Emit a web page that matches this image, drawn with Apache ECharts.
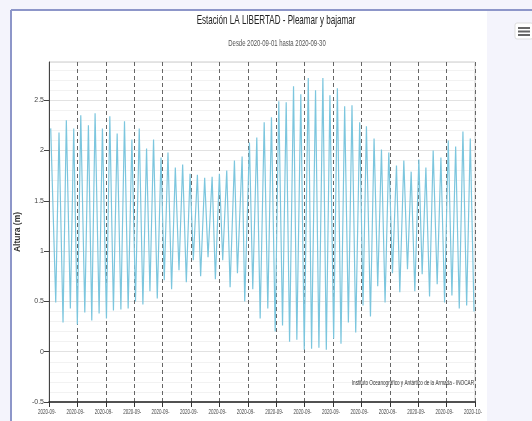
<!DOCTYPE html>
<html>
<head>
<meta charset="utf-8">
<title>Estación LA LIBERTAD - Pleamar y bajamar</title>
<script src="https://cdn.jsdelivr.net/npm/echarts@6/dist/echarts.min.js"></script>
<style>
  html, body { margin: 0; padding: 0; background: #f4f4fc; }
  #chartBox { width: 532px; height: 421px; }
</style>
</head>
<body>
<div id="chartBox"></div>
<script>
var myChart;

// horas desde 2020-09-01 00:00 y altura (m) de pleamares
const highHours = [2.9, 16.9, 29.3, 41.8, 53.7, 66.6, 77.9, 90.3, 102.8, 115.2,
  127.6, 140.1, 152.5, 164.9, 176.7, 189.3, 201.1, 213.5, 225.9, 238.4,
  250.8, 263.1, 275.7, 288.0, 300.4, 313.4, 326.4, 338.8, 351.2, 363.7,
  376.0, 388.4, 400.9, 413.3, 425.6, 438.2, 450.5, 462.9, 474.8, 487.4,
  499.7, 512.1, 525.1, 536.5, 549.4, 561.9, 574.3, 587.3, 599.7, 612.1,
  625.1, 637.0, 649.3, 662.4, 674.8, 687.3, 699.6, 712.0];
const highValues = [2.22, 2.18, 2.30, 2.22, 2.35, 2.25, 2.37, 2.22, 2.34, 2.17,
  2.29, 2.11, 2.22, 2.02, 2.11, 1.93, 1.98, 1.83, 1.86, 1.77,
  1.76, 1.73, 1.74, 1.77, 1.80, 1.90, 1.94, 2.08, 2.13, 2.28,
  2.33, 2.49, 2.48, 2.64, 2.56, 2.72, 2.60, 2.72, 2.55, 2.62,
  2.44, 2.45, 2.28, 2.24, 2.12, 2.01, 1.98, 1.85, 1.90, 1.79,
  1.91, 1.83, 2.00, 1.93, 2.10, 2.04, 2.19, 2.12];

// bajamares
const lowHours = [11.4, 23.7, 36.1, 47.9, 60.5, 72.3, 84.7, 97.1, 108.9, 121.5,
  133.8, 146.2, 158.7, 170.6, 183.0, 194.8, 207.2, 219.7, 232.1, 243.9,
  256.3, 268.8, 281.2, 293.6, 306.1, 318.5, 330.8, 344.4, 356.9, 369.8,
  382.3, 394.7, 406.6, 418.9, 431.4, 443.8, 456.2, 468.7, 481.1, 493.5,
  506.0, 518.4, 530.7, 543.3, 555.6, 568.0, 580.5, 592.9, 605.9, 618.3,
  630.7, 643.2, 656.1, 668.6, 681.0, 693.4, 705.9, 718.3];
const lowValues = [0.49, 0.29, 0.43, 0.27, 0.39, 0.31, 0.38, 0.33, 0.41, 0.42,
  0.43, 0.50, 0.47, 0.60, 0.53, 0.71, 0.62, 0.81, 0.69, 0.91,
  0.75, 0.94, 0.72, 0.91, 0.64, 0.78, 0.50, 0.62, 0.33, 0.43,
  0.20, 0.26, 0.10, 0.12, 0.02, 0.03, 0.04, 0.02, 0.13, 0.08,
  0.29, 0.19, 0.46, 0.35, 0.65, 0.49, 0.78, 0.59, 0.82, 0.60,
  0.77, 0.55, 0.67, 0.49, 0.56, 0.43, 0.46, 0.40];

// etiquetas del eje x (una cada 2 dias, cortadas como en la grafica)
const tickLabels = ['2020-09-', '2020-09-', '2020-09-', '2020-09-', '2020-09-', '2020-09-',
  '2020-09-', '2020-09-', '2020-09-', '2020-09-', '2020-09-', '2020-09-', '2020-09-',
  '2020-09-', '2020-09-', '2020-10-'];
const tickStep = 48; // horas

const font = "'Liberation Sans', Arial, sans-serif";
const Y_MIN = -0.5;

window.onload = function () {
  myChart = echarts.init(document.getElementById("chartBox"));
  setOptions();
  addXLabels();
};

function buildSeries() {
  let pts = [];
  highHours.forEach((h, i) => pts.push([h, highValues[i]]));
  lowHours.forEach((h, i) => pts.push([h, lowValues[i]]));
  pts.sort((a, b) => a[0] - b[0]);
  return pts;
}

// texto comprimido horizontalmente (fuente estrecha)
function narrowText(id, text, x, y, size, color, scale, align) {
  return {
    type: "text", id: id, x: x, y: y, scaleX: scale, z: 10,
    style: {
      text: text, x: 0, y: 0, fontFamily: font, fontSize: size, fill: color,
      align: align || "center", verticalAlign: "middle",
    },
  };
}

function addXLabels() {
  // etiquetas colocadas en la posicion que da el propio eje
  let g = tickLabels.map((t, i) => {
    let p = myChart.convertToPixel({ xAxisIndex: 0, yAxisIndex: 0 }, [i * tickStep, Y_MIN]);
    return narrowText("xl" + i, t, p[0] - 2, p[1] + 10, 7.5, "#444", 0.6);
  });
  myChart.setOption({ graphic: g });
}

function setOptions() {
  var option = {
    backgroundColor: "#f4f4fc",
    animation: false,
    graphic: [
      { type: "rect", id: "panel", z: -10, shape: { x: 11, y: 10, width: 476, height: 420 },
        style: { fill: "#ffffff" } },
      { type: "line", id: "topLine", z: 10, shape: { x1: 11, y1: 10, x2: 532, y2: 10 },
        style: { stroke: "#8d96c9", lineWidth: 2 } },
      { type: "line", id: "leftLine", z: 10, shape: { x1: 11, y1: 10, x2: 11, y2: 421 },
        style: { stroke: "#8d96c9", lineWidth: 2 } },
      { type: "rect", id: "menuBox", shape: { x: 515, y: 23, width: 18, height: 16, r: 2 },
        style: { fill: "#ffffff", stroke: "#dddddd" } },
      { type: "rect", id: "m1", shape: { x: 518, y: 27, width: 12, height: 2 }, style: { fill: "#666" } },
      { type: "rect", id: "m2", shape: { x: 518, y: 30.5, width: 12, height: 2 }, style: { fill: "#666" } },
      { type: "rect", id: "m3", shape: { x: 518, y: 34, width: 12, height: 2 }, style: { fill: "#666" } },
      narrowText("title", "Estación LA LIBERTAD - Pleamar y bajamar", 276, 20, 13, "#222", 0.62),
      narrowText("subtitle", "Desde 2020-09-01 hasta 2020-09-30", 277, 44, 9, "#555", 0.66),
      narrowText("credit", "Instituto Oceanográfico y Antártico de la Armada - INOCAR",
        474, 383, 7.5, "#333", 0.62, "right"),
    ],
    grid: {
      left: 49,
      right: 57,
      top: 62,
      bottom: 19,
      show: true,
      borderColor: "#cccccc",
      borderWidth: 1,
      backgroundColor: "#ffffff",
    },
    xAxis: {
      type: "value",
      min: 0,
      max: 720,
      interval: tickStep,
      axisLine: { show: true, onZero: false, lineStyle: { color: "#222", width: 1.5 } },
      axisTick: { show: true, length: 5, lineStyle: { color: "#333" } },
      axisLabel: { show: false },
      splitLine: { show: true, lineStyle: { color: "#666", type: [4, 3], width: 1 } },
    },
    yAxis: {
      type: "value",
      min: Y_MIN,
      max: 2.88,
      interval: 0.5,
      name: "Altura (m)",
      nameLocation: "middle",
      nameGap: 27,
      nameMoveOverlap: false,
      nameTextStyle: { fontFamily: font, fontSize: 8.5, fontWeight: "bold", color: "#333" },
      axisLine: { show: true, lineStyle: { color: "#444" } },
      axisTick: { show: true, length: 5, lineStyle: { color: "#444" } },
      axisLabel: {
        fontFamily: font,
        fontSize: 7,
        color: "#444",
        margin: 5,
        showMaxLabel: false,
      },
      splitLine: { show: true, lineStyle: { color: "#e2e2e2" } },
      minorTick: { show: false, splitNumber: 5 },
      minorSplitLine: { show: true, lineStyle: { color: "#f2f2f2" } },
    },
    series: [
      {
        type: "line",
        data: buildSeries(),
        showSymbol: false,
        lineStyle: { color: "#7cc6de", width: 1.2 },
        itemStyle: { color: "#7cc6de" },
      },
    ],
  };
  myChart.setOption(option);
}
</script>
</body>
</html>
